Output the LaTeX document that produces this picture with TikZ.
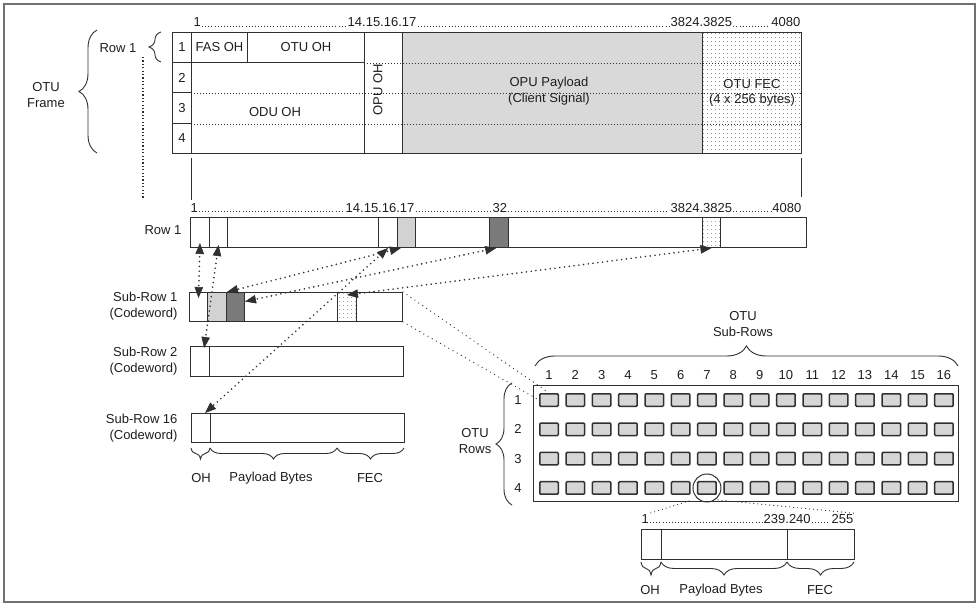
\documentclass[tikz,border=0pt]{standalone}
\usepackage{fontspec}
\setmainfont{Liberation Sans}
\usetikzlibrary{arrows.meta,decorations.pathreplacing,patterns.meta,calc}
\definecolor{linec}{HTML}{303030}
\definecolor{txt}{HTML}{1E1E1E}
\definecolor{paygray}{HTML}{D9D9D9}
\definecolor{lightc}{HTML}{D2D2D2}
\definecolor{darkc}{HTML}{7A7A7A}
\definecolor{gfill}{HTML}{D6D6D6}
\definecolor{framec}{HTML}{707070}
\newcommand\dblconn[2]{%
  \draw[conn, shorten <=9pt, shorten >=9pt] (#1) -- (#2);
  \draw[tipst] ($(#1)!11pt!(#2)$) -- (#1);
  \draw[tipst] ($(#2)!11pt!(#1)$) -- (#2);}
\begin{document}
\begin{tikzpicture}[x=1pt,y=-1pt,
  font=\fontsize{13}{15.5}\selectfont, text=txt,
  box/.style={draw=linec, line width=1pt, inner sep=0pt, anchor=north west},
  hdr/.style={inner sep=0.5pt},
  fine/.style={draw=linec, line width=0.9pt, dash pattern=on 0.9pt off 2.1pt},
  leader/.style={draw=linec, line width=0.9pt, dash pattern=on 0.9pt off 2.2pt},
  conn/.style={draw=linec, line width=1.8pt, dash pattern=on 0pt off 4.8pt, line cap=round},
  tipst/.style={draw=linec, fill=linec, line width=0.6pt, -{Triangle[length=11pt,width=8.5pt]}},
  br/.style={draw=linec, line width=0.9pt, decorate, decoration={brace, amplitude=#1}},
  fecpat/.style={pattern={Dots[distance=4pt, radius=0.5pt]}, pattern color=black!70},
  gcell/.style={draw=linec, line width=1.5pt, fill=gfill, minimum width=18.5pt, minimum height=12.5pt, inner sep=0pt, rounded corners=1pt},
]
\useasboundingbox (0,0) rectangle (978,605);
\draw[draw=framec, line width=1.3pt] (4,4) rectangle (975,602);

% ---------------- OTU frame ----------------
\node[box, minimum width=19pt, minimum height=30pt] (n1) at (172,32) {1};
\node[box, minimum width=19pt, minimum height=30pt] (n2) at (172,62) {2};
\node[box, minimum width=19pt, minimum height=31pt] (n3) at (172,92) {3};
\node[box, minimum width=19pt, minimum height=30pt] (n4) at (172,123) {4};
\node[box, minimum width=56pt, minimum height=30pt] (fas) at (191,32) {FAS OH};
\node[box, minimum width=117pt, minimum height=30pt] (otuoh) at (247,32) {OTU OH};
\node[box, minimum width=173pt, minimum height=91pt] (odu) at (191,62) {};
\node[box, minimum width=38pt, minimum height=121pt] (opuoh) at (364,32) {};
\node[box, fill=paygray, minimum width=300pt, minimum height=121pt] (pay) at (402,32) {};
\node[box, fecpat, minimum width=99pt, minimum height=121pt] (fec) at (702,32) {};
\draw[fine] (opuoh.west |- n1.south) -- (fec.east |- n1.south);
\draw[fine] (odu.west |- n2.south) -- (fec.east |- n2.south);
\draw[fine] (odu.west |- n3.south) -- (fec.east |- n3.south);
\node (odutxt) at (275,112) {ODU OH};
\node[rotate=90] (opuohtxt) at (378,90) {OPU OH};
\node[align=center] (paytxt) at (549,91) {OPU Payload\\(Client Signal)};
\node[align=center] (fectxt) at (752,93) {OTU FEC\\(4 x 256 bytes)};

% header of frame
\node[hdr, anchor=base west] (h1) at (193,27) {1};
\node[hdr, anchor=base west] (h14) at (347,27) {14.15.16.17};
\node[hdr, anchor=base west] (h3824) at (670,27) {3824.3825};
\node[hdr, anchor=base east] (h4080) at (801,27) {4080};
\draw[leader] ($(h1.base east)+(0.5,-0.5)$) -- ($(h14.base west)+(-0.5,-0.5)$);
\draw[leader] ($(h14.base east)+(0.5,-0.5)$) -- ($(h3824.base west)+(-0.5,-0.5)$);
\draw[leader] ($(h3824.base east)+(0.5,-0.5)$) -- ($(h4080.base west)+(-0.5,-0.5)$);

% braces and labels at left
\node (rowlbl) at (118,48) {Row 1};
\draw[br=12] (161,62) -- (161,32);
\node[align=center] (otuframe) at (46,95) {OTU\\Frame};
\draw[br=18] (97,153) -- (97,30);
\coordinate (dvt) at (143,57);
\coordinate (dvb) at (143,198);
\draw[fine, line width=1.2pt, dash pattern=on 1.2pt off 2.2pt] (dvt) -- (dvb);
\coordinate (zla) at (191,158);
\coordinate (zlb) at (191,200);
\coordinate (zra) at (801,158);
\coordinate (zrb) at (801,197);
\draw[draw=linec, line width=1pt] (zla) -- (zlb);
\draw[draw=linec, line width=1pt] (zra) -- (zrb);

% ---------------- Row 1 strip ----------------
\node[box, minimum width=616pt, minimum height=30pt] (r1) at (190,217) {};
\node[box, minimum width=19pt, minimum height=30pt] (r1c1) at (190,217) {};
\node[box, minimum width=18pt, minimum height=30pt] (r1c2) at (209,217) {};
\node[box, minimum width=19pt, minimum height=30pt] (r1c16) at (378,217) {};
\node[box, fill=lightc, minimum width=18pt, minimum height=30pt] (r1c17) at (397,217) {};
\node[box, fill=darkc, minimum width=19pt, minimum height=30pt] (r1c32) at (489,217) {};
\node[box, fecpat, minimum width=18pt, minimum height=30pt] (r1fec) at (702,217) {};
\node (r1lbl) at (163,230) {Row 1};
\node[hdr, anchor=base west] (g1) at (190,212) {1};
\node[hdr, anchor=base west] (g14) at (345,212) {14.15.16.17};
\node[hdr, anchor=base west] (g32) at (492,212) {32};
\node[hdr, anchor=base west] (g3824) at (670,212) {3824.3825};
\node[hdr, anchor=base east] (g4080) at (802,212) {4080};
\draw[leader] ($(g1.base east)+(0.5,-0.5)$) -- ($(g14.base west)+(-0.5,-0.5)$);
\draw[leader] ($(g14.base east)+(0.5,-0.5)$) -- ($(g32.base west)+(-0.5,-0.5)$);
\draw[leader] ($(g32.base east)+(0.5,-0.5)$) -- ($(g3824.base west)+(-0.5,-0.5)$);
\draw[leader] ($(g3824.base east)+(0.5,-0.5)$) -- ($(g4080.base west)+(-0.5,-0.5)$);

% ---------------- Sub-rows ----------------
\node[box, minimum width=213pt, minimum height=29pt] (s1) at (189,292) {};
\node[box, minimum width=18pt, minimum height=29pt] (s1oh) at (189,292) {};
\node[box, fill=lightc, minimum width=19pt, minimum height=29pt] (s1lg) at (207,292) {};
\node[box, fill=darkc, minimum width=18pt, minimum height=29pt] (s1dg) at (226,292) {};
\node[box, fecpat, minimum width=19pt, minimum height=29pt] (s1fec) at (337,292) {};
\node[align=right, anchor=east] (s1lbl) at (181,306) {Sub-Row 1\\(Codeword)};

\node[box, minimum width=213pt, minimum height=30pt] (s2) at (190,346) {};
\node[box, minimum width=19pt, minimum height=30pt] (s2oh) at (190,346) {};
\node[align=right, anchor=east] (s2lbl) at (181,361) {Sub-Row 2\\(Codeword)};

\node[box, minimum width=213pt, minimum height=29pt] (s16) at (191,413) {};
\node[box, minimum width=19pt, minimum height=29pt] (s16oh) at (191,413) {};
\node[align=right, anchor=east] (s16lbl) at (181,428) {Sub-Row 16\\(Codeword)};

\draw[br=11] (210,448) -- (191,448);
\draw[br=11] (337,448) -- (210,448);
\draw[br=11] (404,448) -- (337,448);
\node (ohlbl) at (201,478) {OH};
\node (paylbl) at (271,478) {Payload Bytes};
\node (feclbl) at (370,478) {FEC};

% ---------------- OTU grid ----------------
\node[box, minimum width=425pt, minimum height=116pt] (grid) at (533,385) {};
\foreach \r in {1,...,4}{
  \node (rl\r) at (518,{400+(\r-1)*29.33}) {\r};
  \foreach \c in {1,...,16}{
    \node[gcell] (g-\r-\c) at ({549+(\c-1)*26.33},{400+(\r-1)*29.33}) {};
  }
}
\foreach \c in {1,...,16}{
  \node (cl\c) at ({549+(\c-1)*26.33},375) {\c};
}
\draw[br=20] (535,366) -- (958,366);
\node[align=center] (subrowslbl) at (743,324) {OTU\\Sub-Rows};
\draw[br=16] (512,505) -- (512,383);
\node[align=center] (rowslbl) at (475,441) {OTU\\Rows};
\node[circle, draw=linec, line width=1pt, minimum size=28pt, inner sep=0pt] (circ) at (g-4-7) {};

% ---------------- bottom codeword ----------------
\node[box, minimum width=213pt, minimum height=30pt] (cw) at (641,529) {};
\node[box, minimum width=20pt, minimum height=30pt] (cwoh) at (641,529) {};
\node[box, minimum width=126pt, minimum height=30pt] (cwpay) at (661,529) {};
\node[hdr, anchor=base west] (cwh1) at (641,523) {1};
\node[hdr, anchor=base west] (cwh239) at (763,523) {239.240};
\node[hdr, anchor=base east] (cwh255) at (854,523) {255};
\draw[leader] ($(cwh1.base east)+(0.5,-0.5)$) -- ($(cwh239.base west)+(-0.5,-0.5)$);
\draw[leader] ($(cwh239.base east)+(0.5,-0.5)$) -- ($(cwh255.base west)+(-0.5,-0.5)$);
\draw[br=13] (661,562) -- (641,562);
\draw[br=13] (787,562) -- (661,562);
\draw[br=13] (854,562) -- (787,562);
\node (cwohlbl) at (650,590) {OH};
\node (cwpaylbl) at (721,590) {Payload Bytes};
\node (cwfeclbl) at (820,590) {FEC};

% ---------------- connectors ----------------
\coordinate (e1a) at ($(r1c1.south)+(0,-5)$);
\coordinate (e1b) at ($(s1oh.north)+(0,6)$);
\coordinate (e2a) at ($(r1c2.south)+(0,-3)$);
\coordinate (e2b) at ($(s2oh.75)+(0,2)$);
\coordinate (e5b) at ($(s1fec.north)+(0,3)$);
\dblconn{e1a}{e1b}
\dblconn{e2a}{e2b}
\dblconn{r1c16.south}{s16oh.75}
\dblconn{r1c17.-110}{s1lg.north east}
\dblconn{r1c32.-100}{s1dg.30}
\dblconn{r1fec.south}{e5b}
\draw[conn, line width=1.3pt] (s1.north east) -- (g-1-1.north);
\draw[conn, line width=1.3pt] (s1.south east) -- (g-1-1.west);
\coordinate (czl) at (689,501);
\coordinate (czr) at (718,500);
\draw[conn, line width=1.2pt, dash pattern=on 0pt off 4pt] (czl) -- (cwh1.north east);
\draw[conn, line width=1.2pt, dash pattern=on 0pt off 4pt] (czr) -- (cwh255.north east);
\end{tikzpicture}
\end{document}
